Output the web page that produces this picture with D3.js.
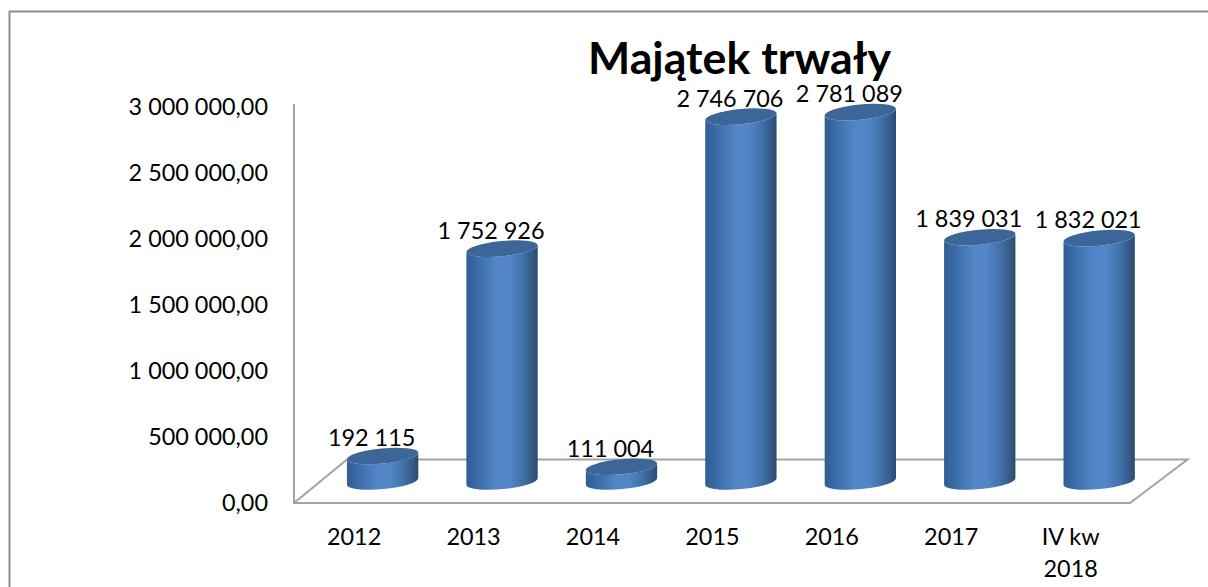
<!DOCTYPE html>
<html><head><meta charset="utf-8">
<script src="https://cdnjs.cloudflare.com/ajax/libs/d3/7.8.5/d3.min.js"></script>
<style>html,body{margin:0;padding:0;background:#fff;overflow:hidden}svg{display:block}text{font-family:Lato,"Open Sans",sans-serif;fill:#000}</style>
</head><body><svg id="c" width="1208" height="587"></svg>
<script>
const title = "Majątek trwały";
const categories = ["2012","2013","2014","2015","2016","2017","IV kw|2018"];
const values = [192115,1752926,111004,2746706,2781089,1839031,1832021];
const axisTicks = [0,500000,1000000,1500000,2000000,2500000,3000000];

const svg = d3.select("#c");
const loc = d3.formatLocale({decimal:",",thousands:"\u00a0",grouping:[3],currency:["",""]});
const fAxis = loc.format(",.2f"), fVal = loc.format(",.0f");

const x = d3.scaleBand().domain(categories).range([346.8,1135]).paddingInner(0.4).paddingOuter(0);
const yBar = d3.scaleLinear().domain([0,3000000]).range([481.5,83]);
const yAxis = d3.scaleLinear().domain([0,3000000]).range([503,107]);

const defs = svg.append("defs");
const g = defs.append("linearGradient").attr("id","side");
[[0,"#2f5d94"],[0.2,"#3e70ad"],[0.42,"#5286c9"],[0.6,"#5286c9"],[0.8,"#416f a8".replace(" ","")],[0.94,"#325783"],[1,"#2b4970"]]
  .forEach(([o,c])=>g.append("stop").attr("offset",o).attr("stop-color",c));

// frame: left and top edges only, the sheet runs off to the right and bottom
svg.append("path").attr("d","M9.5,587V11.5H1208").attr("fill","none").attr("stroke","#8e8e8e").attr("stroke-width",2);
// wall + floor
svg.append("path").attr("d","M294,104V503H1130L1187.5,459.5H347L294,503")
  .attr("fill","none").attr("stroke","#a3a3a3").attr("stroke-width",2);

// y axis
const ax = svg.append("g").attr("transform","translate(268,0)")
  .call(d3.axisLeft(yAxis).tickValues(axisTicks).tickSize(0).tickPadding(0).tickFormat(fAxis));
ax.select(".domain").remove();
ax.selectAll("text").style("font-family","Lato").style("font-size","23.4px").attr("fill","#000").attr("dy","0.33em");

// cylinders
const tilt = -5.6*Math.PI/180, ry = 7.6;
const bars = svg.selectAll("g.bar").data(values).join("g").attr("class","bar");
bars.each(function(v,i){
  const s = d3.select(this), cat = categories[i], rx = x.bandwidth()/2, cx = x(cat)+rx;
  const t = yBar(v), b = yBar(0), dx = rx*Math.cos(tilt), dy = rx*Math.sin(tilt), deg = tilt*180/Math.PI;
  s.append("path").attr("fill","url(#side)")
    .attr("d",`M${cx-dx},${t-dy}L${cx-dx},${b-dy}A${rx},${ry} ${deg} 0 0 ${cx+dx},${b+dy}L${cx+dx},${t+dy}A${rx},${ry} ${deg} 0 1 ${cx-dx},${t-dy}Z`);
  s.append("ellipse").attr("cx",cx).attr("cy",t).attr("rx",rx).attr("ry",ry)
    .attr("transform",`rotate(${deg} ${cx} ${t})`).attr("fill","#3c6698");
  s.append("text").attr("x",cx-11).attr("y",t-18).attr("dy","0.35em").attr("text-anchor","middle")
    .style("font-size","23.4px").text(fVal(v));
});

// category labels
categories.forEach(c=>{
  const cx = x(c)+x.bandwidth()/2-28.5;
  c.split("|").forEach((line,k)=>{
    svg.append("text").attr("x",cx).attr("y",537+k*32).attr("dy","0.35em").attr("text-anchor","middle")
      .style("font-size","23.4px").text(line);
  });
});

svg.append("text").attr("x",739.5).attr("y",58).attr("dy","0.35em").attr("text-anchor","middle")
  .style("font-size","44.7px").style("font-weight","700").text(title);
</script></body></html>
